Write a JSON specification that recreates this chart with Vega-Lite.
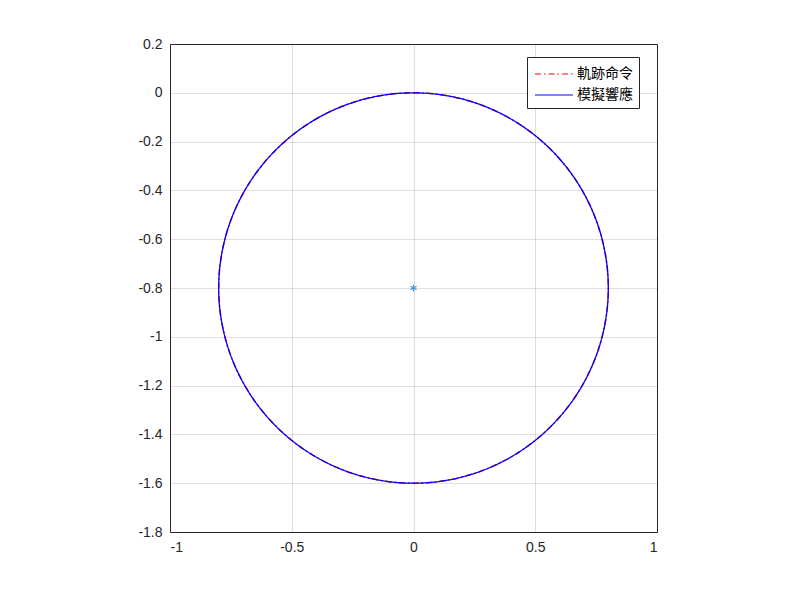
{
  "$schema": "https://vega.github.io/schema/vega-lite/v6.json",
  "width": 487,
  "height": 488,
  "autosize": {"type": "none"},
  "padding": {"left": 170, "top": 44, "right": 143, "bottom": 68},
  "background": "white",
  "config": {
    "view": {"stroke": "#262626", "strokeWidth": 1},
    "axis": {
      "labelFont": "Liberation Sans",
      "labelFontSize": 14,
      "labelColor": "#262626",
      "ticks": false,
      "domain": false,
      "gridColor": "#262626",
      "gridOpacity": 0.15,
      "title": null
    }
  },
  "datasets": {
    "pts": [
      {"i": 0, "x": 0, "y": 0},
      {"i": 1, "x": 0.0697, "y": -0.003},
      {"i": 2, "x": 0.1389, "y": -0.0122},
      {"i": 3, "x": 0.2071, "y": -0.0273},
      {"i": 4, "x": 0.2736, "y": -0.0482},
      {"i": 5, "x": 0.3381, "y": -0.075},
      {"i": 6, "x": 0.4, "y": -0.1072},
      {"i": 7, "x": 0.4589, "y": -0.1447},
      {"i": 8, "x": 0.5142, "y": -0.1872},
      {"i": 9, "x": 0.5657, "y": -0.2343},
      {"i": 10, "x": 0.6128, "y": -0.2858},
      {"i": 11, "x": 0.6553, "y": -0.3411},
      {"i": 12, "x": 0.6928, "y": -0.4},
      {"i": 13, "x": 0.725, "y": -0.4619},
      {"i": 14, "x": 0.7518, "y": -0.5264},
      {"i": 15, "x": 0.7727, "y": -0.5929},
      {"i": 16, "x": 0.7878, "y": -0.6611},
      {"i": 17, "x": 0.797, "y": -0.7303},
      {"i": 18, "x": 0.8, "y": -0.8},
      {"i": 19, "x": 0.797, "y": -0.8697},
      {"i": 20, "x": 0.7878, "y": -0.9389},
      {"i": 21, "x": 0.7727, "y": -1.0071},
      {"i": 22, "x": 0.7518, "y": -1.0736},
      {"i": 23, "x": 0.725, "y": -1.1381},
      {"i": 24, "x": 0.6928, "y": -1.2},
      {"i": 25, "x": 0.6553, "y": -1.2589},
      {"i": 26, "x": 0.6128, "y": -1.3142},
      {"i": 27, "x": 0.5657, "y": -1.3657},
      {"i": 28, "x": 0.5142, "y": -1.4128},
      {"i": 29, "x": 0.4589, "y": -1.4553},
      {"i": 30, "x": 0.4, "y": -1.4928},
      {"i": 31, "x": 0.3381, "y": -1.525},
      {"i": 32, "x": 0.2736, "y": -1.5518},
      {"i": 33, "x": 0.2071, "y": -1.5727},
      {"i": 34, "x": 0.1389, "y": -1.5878},
      {"i": 35, "x": 0.0697, "y": -1.597},
      {"i": 36, "x": 0, "y": -1.6},
      {"i": 37, "x": -0.0697, "y": -1.597},
      {"i": 38, "x": -0.1389, "y": -1.5878},
      {"i": 39, "x": -0.2071, "y": -1.5727},
      {"i": 40, "x": -0.2736, "y": -1.5518},
      {"i": 41, "x": -0.3381, "y": -1.525},
      {"i": 42, "x": -0.4, "y": -1.4928},
      {"i": 43, "x": -0.4589, "y": -1.4553},
      {"i": 44, "x": -0.5142, "y": -1.4128},
      {"i": 45, "x": -0.5657, "y": -1.3657},
      {"i": 46, "x": -0.6128, "y": -1.3142},
      {"i": 47, "x": -0.6553, "y": -1.2589},
      {"i": 48, "x": -0.6928, "y": -1.2},
      {"i": 49, "x": -0.725, "y": -1.1381},
      {"i": 50, "x": -0.7518, "y": -1.0736},
      {"i": 51, "x": -0.7727, "y": -1.0071},
      {"i": 52, "x": -0.7878, "y": -0.9389},
      {"i": 53, "x": -0.797, "y": -0.8697},
      {"i": 54, "x": -0.8, "y": -0.8},
      {"i": 55, "x": -0.797, "y": -0.7303},
      {"i": 56, "x": -0.7878, "y": -0.6611},
      {"i": 57, "x": -0.7727, "y": -0.5929},
      {"i": 58, "x": -0.7518, "y": -0.5264},
      {"i": 59, "x": -0.725, "y": -0.4619},
      {"i": 60, "x": -0.6928, "y": -0.4},
      {"i": 61, "x": -0.6553, "y": -0.3411},
      {"i": 62, "x": -0.6128, "y": -0.2858},
      {"i": 63, "x": -0.5657, "y": -0.2343},
      {"i": 64, "x": -0.5142, "y": -0.1872},
      {"i": 65, "x": -0.4589, "y": -0.1447},
      {"i": 66, "x": -0.4, "y": -0.1072},
      {"i": 67, "x": -0.3381, "y": -0.075},
      {"i": 68, "x": -0.2736, "y": -0.0482},
      {"i": 69, "x": -0.2071, "y": -0.0273},
      {"i": 70, "x": -0.1389, "y": -0.0122},
      {"i": 71, "x": -0.0697, "y": -0.003},
      {"i": 72, "x": 0, "y": 0}
    ],
    "center": [{"x": 0, "y": -0.8}]
  },
  "encoding": {
    "x": {
      "field": "x", "type": "quantitative",
      "scale": {"domain": [-1, 1], "nice": false, "zero": false},
      "axis": {"values": [-1, -0.5, 0, 0.5, 1], "format": "~g", "labelPadding": 8, "labelExpr": "replace(datum.label, '−', '-')"}
    },
    "y": {
      "field": "y", "type": "quantitative",
      "scale": {"domain": [-1.8, 0.2], "nice": false, "zero": false},
      "axis": {"values": [-1.8, -1.6, -1.4, -1.2, -1, -0.8, -0.6, -0.4, -0.2, 0, 0.2], "format": "~g", "labelPadding": 8, "labelExpr": "replace(datum.label, '−', '-')"}
    }
  },
  "layer": [
    {
      "data": {"name": "pts"},
      "mark": {"type": "line", "strokeWidth": 1.5, "interpolate": "cardinal"},
      "encoding": {
        "order": {"field": "i", "type": "quantitative"},
        "color": {"datum": "軌跡命令", "type": "nominal",
          "scale": {"domain": ["軌跡命令", "模擬響應"], "range": ["#ff0000", "#0000ff"]},
          "legend": {"title": null, "orient": "none", "legendX": 357, "legendY": 13, "fillColor": "white", "strokeColor": "#262626",
            "padding": 6, "labelFont": "Noto Sans CJK TC", "labelFontSize": 14, "labelColor": "#000000",
            "symbolType": "M-0.9,0L2.9,0", "symbolSize": 400, "symbolStrokeWidth": 1.2, "rowPadding": 3, "labelOffset": 22, "cornerRadius": 0}},
        "strokeDash": {"datum": "軌跡命令", "type": "nominal",
          "scale": {"domain": ["軌跡命令", "模擬響應"], "range": [[6, 3, 1.5, 3], [1, 0]]},
          "legend": {"title": null, "orient": "none", "legendX": 357, "legendY": 13, "fillColor": "white", "strokeColor": "#262626",
            "padding": 6, "labelFont": "Noto Sans CJK TC", "labelFontSize": 14, "labelColor": "#000000",
            "symbolType": "M-0.9,0L2.9,0", "symbolSize": 400, "symbolStrokeWidth": 1.2, "rowPadding": 3, "labelOffset": 22, "cornerRadius": 0}}
      }
    },
    {
      "data": {"name": "pts"},
      "mark": {"type": "line", "strokeWidth": 1.3, "interpolate": "cardinal"},
      "encoding": {
        "order": {"field": "i", "type": "quantitative"},
        "color": {"datum": "模擬響應", "type": "nominal"},
        "strokeDash": {"datum": "模擬響應", "type": "nominal"}
      }
    },
    {
      "data": {"name": "center"},
      "mark": {"type": "point", "shape": "M0,-1L0,1M-0.87,-0.5L0.87,0.5M-0.87,0.5L0.87,-0.5", "size": 50, "filled": false, "stroke": "#0072BD", "strokeWidth": 1.2}
    }
  ]
}
